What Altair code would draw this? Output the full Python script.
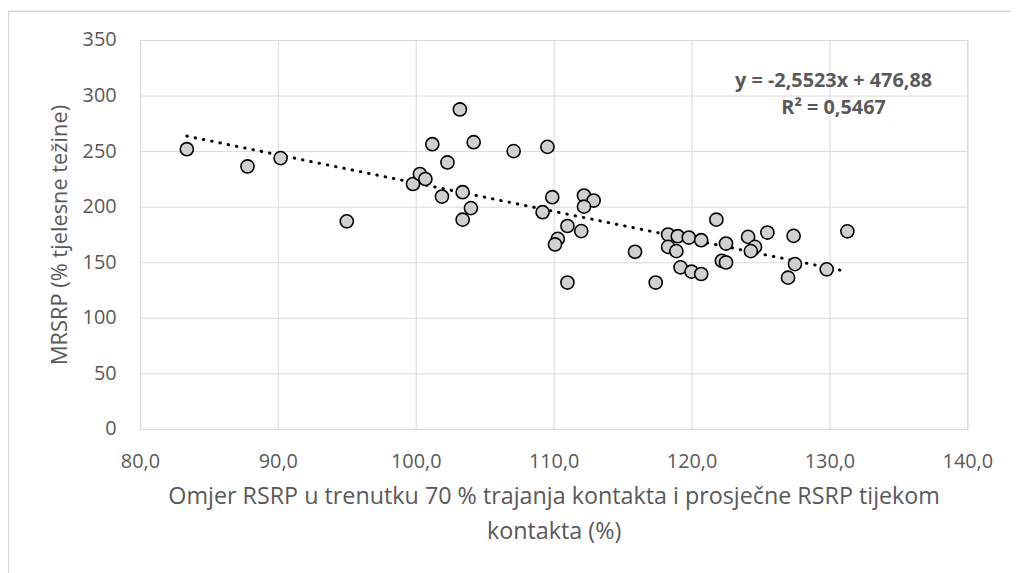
import altair as alt
import pandas as pd

# Omjer RSRP (%) and MRSRP (% tjelesne težine)
x_vals = [83.4, 87.8, 90.2, 95.0, 99.8, 100.3, 100.7, 101.2, 101.9, 102.3,
          103.2, 103.4, 103.4, 104.0, 104.2, 107.1, 109.55, 109.9, 109.2, 112.2,
          112.9, 112.2, 111.0, 112.0, 110.3, 110.1, 111.0, 115.9, 117.4, 118.3,
          119.0, 119.8, 120.7, 118.3, 118.9, 119.2, 120.0, 120.7, 121.8, 122.5,
          122.2, 122.5, 124.1, 124.6, 124.3, 125.5, 127.4, 127.5, 127.0, 129.8,
          131.3]
y_vals = [251.7, 236.2, 243.7, 186.8, 220.4, 229.4, 224.9, 256.2, 209.1, 239.8,
          287.5, 213.0, 188.3, 198.7, 258.0, 250.0, 253.8, 208.5, 195.0, 210.0,
          205.5, 200.0, 182.6, 178.0, 171.0, 166.0, 131.7, 159.4, 131.7, 174.9,
          173.4, 172.2, 169.8, 163.8, 160.0, 145.4, 141.5, 139.4, 188.3, 166.8,
          151.3, 149.8, 172.8, 163.8, 160.0, 176.7, 173.7, 148.3, 136.1, 143.6,
          177.8]

eq_lines = ["y = -2,5523x + 476,88", "R² = 0,5467"]
eq_x = [130.3, 130.3]
eq_y = [312.8, 288.6]

x_title = ["Omjer RSRP u trenutku 70 % trajanja kontakta i prosječne RSRP tijekom",
           "kontakta (%)"]
y_title = "MRSRP (% tjelesne težine)"

TXT = "#595959"
GRID = "#d9d9d9"
FONT = "Open Sans"

df = pd.DataFrame({"x": x_vals, "y": y_vals})
eq = pd.DataFrame({"label": eq_lines, "x": eq_x, "y": eq_y})

xs = alt.Scale(domain=[80, 140], nice=False, zero=False)
ys = alt.Scale(domain=[0, 350], nice=False)

xaxis = alt.Axis(values=[80, 90, 100, 110, 120, 130, 140],
                 labelExpr="replace(format(datum.value, '.1f'), '.', ',')",
                 labelFlush=False,
                 title=x_title, grid=True, gridColor=GRID, domain=False, ticks=False,
                 labelPadding=23, labelFontSize=20, labelColor=TXT, labelFont=FONT,
                 titleFontSize=23.5, titleColor=TXT, titleFont=FONT, titleFontWeight="normal",
                 titleY=75, titleBaseline="alphabetic", titleLineHeight=35)
yaxis = alt.Axis(values=[0, 50, 100, 150, 200, 250, 300, 350],
                 labelFlush=False,
                 title=y_title, grid=True, gridColor=GRID, domain=False, ticks=False,
                 labelPadding=24, labelFontSize=20, labelColor=TXT, labelFont=FONT,
                 titleFontSize=22, titleColor=TXT, titleFont=FONT, titleFontWeight="normal",
                 titleX=-74, titleBaseline="alphabetic")

base = alt.Chart(df)

trend = base.transform_regression("x", "y", extent=[83.4, 131.3]).mark_line(
    color="black", strokeWidth=3, strokeDash=[0.5, 8], strokeCap="round"
).encode(x=alt.X("x:Q", scale=xs, axis=xaxis), y=alt.Y("y:Q", scale=ys, axis=yaxis))

points = base.mark_point(
    filled=True, shape="circle", size=175, fill="#d0d0d0", stroke="black",
    strokeWidth=1.6, opacity=1
).encode(x=alt.X("x:Q", scale=xs), y=alt.Y("y:Q", scale=ys))

label = alt.Chart(eq).mark_text(
    font=FONT, fontSize=20, fontWeight="bold", color=TXT, align="center", baseline="middle"
).encode(x=alt.X("x:Q", scale=xs), y=alt.Y("y:Q", scale=ys), text="label:N")

border_top = alt.Chart(pd.DataFrame({"a": [0]})).mark_rule(color=GRID, strokeWidth=1.5).encode(
    x=alt.value(-132.5), x2=alt.value(900), y=alt.value(-29))
border_left = alt.Chart(pd.DataFrame({"a": [0]})).mark_rule(color=GRID, strokeWidth=1.5).encode(
    x=alt.value(-132.5), y=alt.value(-29), y2=alt.value(560))

chart = alt.layer(trend, points, label, border_top, border_left).properties(
    width=834, height=392,
    autosize=alt.AutoSizeParams(type="none"),
    padding={"left": 133, "top": 30, "right": 44, "bottom": 143},
).configure_view(stroke=None).configure(background="white")

chart.save("out.html", embed_options={"renderer": "svg", "actions": False})
